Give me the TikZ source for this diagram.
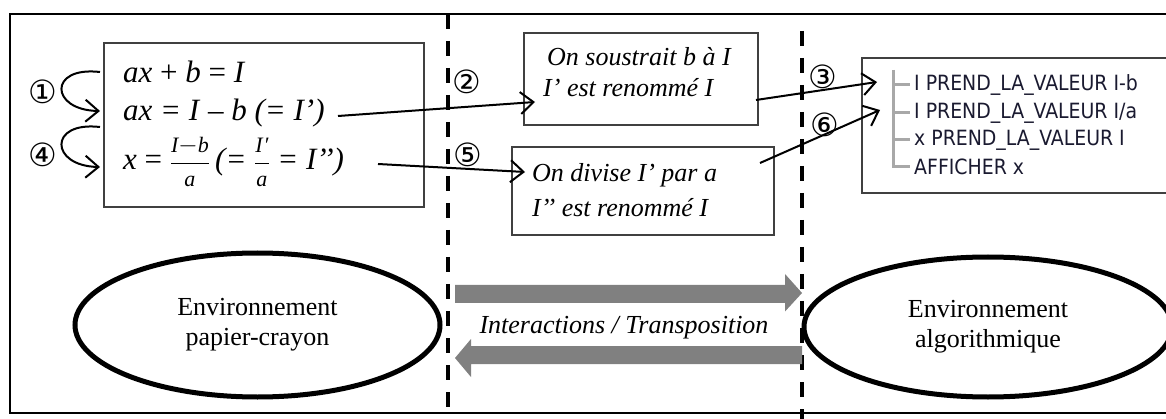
\documentclass[tikz,border=0pt]{standalone}
\usepackage{amsmath}
\usepackage{fontspec}
\setmainfont{Liberation Serif}
\newfontfamily\symfont{DejaVu Sans}
\newfontfamily\treefont{DejaVu Sans Condensed}
\usetikzlibrary{arrows.meta,shapes.geometric}
\definecolor{boxgray}{HTML}{404040}
\definecolor{treegray}{HTML}{A8A8A8}
\definecolor{bigarrow}{HTML}{808080}
\definecolor{treetext}{HTML}{1A1A30}
\newcommand{\fracpart}[1]{{\fontsize{22}{22}\selectfont\textit{#1}}}
\tikzset{
  frame/.style={draw=black, line width=2pt},
  sepline/.style={draw=black, line width=4pt, dash pattern=on 15pt off 12pt},
  stepbox/.style={draw=boxgray, line width=1.4pt, rectangle, inner sep=0pt},
  txt/.style={font=\fontsize{26}{30}\selectfont\itshape, inner sep=0pt, anchor=west},
  mathline/.style={font=\fontsize{31}{34}\selectfont, inner sep=0pt, anchor=west},
  num/.style={font=\symfont\fontsize{32}{32}\selectfont, inner sep=0pt},
  conn/.style={draw=black, line width=2pt, -{Straight Barb[length=13pt,width=22pt,line width=2pt]}},
  envell/.style={ellipse, draw=black, line width=5pt, inner sep=0pt, align=center,
    font=\fontsize{26}{30}\selectfont},
  treeitem/.style={font=\treefont\fontsize{21}{22}\selectfont, text=treetext, inner sep=0pt, anchor=west},
  treeline/.style={draw=treegray, line width=3pt},
}
\begin{document}
\begin{tikzpicture}[x=1pt,y=-1pt]
\useasboundingbox (0,0) rectangle (1166,419);
\clip (0,0) rectangle (1166,419);
\fill[white] (0,0) rectangle (1166,419);

% outer frame (right side cropped)
\draw[frame] (1180,14) -- (10,14) -- (10,413) -- (1180,413);

% separators
\draw[sepline] (448,14) -- (448,407);
\draw[sepline] (802,31) -- (802,425);

% box 1 : equations
\node[stepbox, minimum width=320pt, minimum height=164pt] (b1) at (264,125) {};
\node[mathline] (l1) at (123,72) {\textit{ax} + \textit{b} = \textit{I}};
\node[mathline] (l2) at (123,113) {\textit{ax = I} -- \textit{b (= I’)}};
\node[mathline] (l3) at (123,162) {\textit{x} = \(\dfrac{\fracpart{I}{-}\fracpart{b}}{\fracpart{a}}\)\,\textit{(=} \(\dfrac{\fracpart{I\kern1pt\char"2032}}{\fracpart{a}}\) \textit{= I’’)}};

% curved arrows
\coordinate (c1s) at (100,72);
\coordinate (c1e) at (100,111);
\coordinate (c4s) at (100,127);
\coordinate (c4e) at (100,167);
\draw[conn] (c1s) .. controls (48,66) and (50,110) .. (c1e);
\draw[conn] (c4s) .. controls (48,121) and (50,166) .. (c4e);
\node[num] (n1) at (43,92) {①};
\node[num] (n4) at (43,155) {④};

% box 2
\node[stepbox, minimum width=234pt, minimum height=92pt] (b2) at (641,79) {};
\node[txt] (t2a) at (547,57) {On soustrait b à I};
\node[txt] (t2b) at (543,88) {I’ est renommé I};

% box 3
\node[stepbox, minimum width=262pt, minimum height=88pt] (b3) at (643,191) {};
\node[txt] (t3a) at (532,175) {On divise I’ par a};
\node[txt] (t3b) at (532,208) {I’’ est renommé I};

% box 4 : algorithm (right side cropped)
\node[stepbox, minimum width=320pt, minimum height=135pt] (b4) at (1022,125.5) {};
\draw[treeline] (893,70) -- (893,167) -- (910,167);
\draw[treeline] (893,85) -- (910,85);
\draw[treeline] (893,113) -- (910,113);
\draw[treeline] (893,140) -- (910,140);
\node[treeitem] (r1) at (914,85) {I PREND\_LA\_VALEUR I-b};
\node[treeitem] (r2) at (914,113) {I PREND\_LA\_VALEUR I/a};
\node[treeitem] (r3) at (914,140) {x PREND\_LA\_VALEUR I};
\node[treeitem] (r4) at (914,167) {AFFICHER x};

% connectors between steps
\coordinate (a2s) at (338,116);
\coordinate (a2e) at (535,102);
\coordinate (a5s) at (378,164);
\coordinate (a5e) at (525,172);
\coordinate (a3s) at (756,100);
\coordinate (a3e) at (877,82);
\coordinate (a6s) at (760,163);
\coordinate (a6e) at (880,110);
\draw[conn] (a2s) -- (a2e);
\draw[conn] (a5s) -- (a5e);
\draw[conn] (a3s) -- (a3e);
\draw[conn] (a6s) -- (a6e);
\node[num] (n2) at (467,82) {②};
\node[num] (n5) at (468,155) {⑤};
\node[num] (n3) at (823,77) {③};
\node[num] (n6) at (825,125) {⑥};

% environments
\node[envell, minimum width=365pt, minimum height=144pt] (e1) at (257.5,325) {Environnement\\papier-crayon};
\node[envell, minimum width=368pt, minimum height=140pt] (e2) at (988,327) {Environnement\\algorithmique};

% big grey arrows
\fill[bigarrow] (455,285) -- (785,285) -- (785,274) -- (802,293) -- (785,311.5) -- (785,303) -- (455,303) -- cycle;
\fill[bigarrow] (802,346) -- (471,346) -- (471,339) -- (455,358) -- (471,377) -- (471,364) -- (802,364) -- cycle;
\node[font=\fontsize{26}{30}\selectfont\itshape, inner sep=0pt] (it) at (624,328) {Interactions / Transposition};
\end{tikzpicture}
\end{document}
